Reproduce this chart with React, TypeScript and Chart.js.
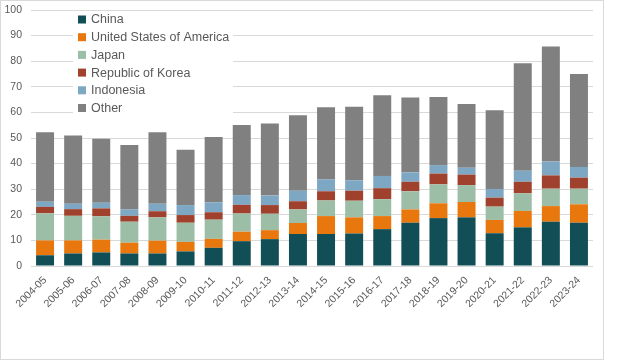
import React, { useEffect, useRef } from 'react';
import { Chart, registerables } from 'chart.js';

Chart.register(...registerables);

const categories = [
  '2004-05', '2005-06', '2006-07', '2007-08', '2008-09', '2009-10', '2010-11',
  '2011-12', '2012-13', '2013-14', '2014-15', '2015-16', '2016-17', '2017-18',
  '2018-19', '2019-20', '2020-21', '2021-22', '2022-23', '2023-24',
];

const china = [4.2, 4.9, 5.3, 4.9, 4.9, 5.7, 7.1, 9.7, 10.5, 12.5, 12.5, 12.7, 14.4, 16.9, 18.7, 19.0, 12.8, 15.1, 17.3, 16.9];
const usa = [5.8, 5.1, 5.0, 4.2, 5.0, 3.7, 3.5, 3.7, 3.5, 4.3, 7.0, 6.3, 5.1, 5.2, 5.8, 6.0, 5.2, 6.4, 6.1, 7.2];
const japan = [10.6, 9.6, 9.1, 8.2, 9.1, 7.5, 7.5, 7.1, 6.4, 5.3, 6.1, 6.5, 6.6, 7.1, 7.4, 6.6, 5.2, 6.9, 6.8, 6.1];
const korea = [2.5, 2.6, 3.1, 2.3, 2.4, 3.0, 2.9, 3.4, 3.4, 3.2, 3.6, 3.9, 4.3, 3.7, 4.2, 4.1, 3.5, 4.5, 5.2, 4.3];
const indonesia = [2.0, 2.1, 2.2, 2.5, 2.9, 3.9, 3.9, 3.8, 3.7, 4.1, 4.7, 4.1, 4.8, 3.7, 3.3, 2.7, 3.4, 4.3, 5.4, 4.2];
const other = [27.1, 26.7, 25.0, 25.2, 27.9, 21.6, 25.5, 27.4, 28.2, 29.5, 28.1, 28.7, 31.5, 29.2, 26.6, 24.9, 30.7, 42.0, 44.9, 36.3];

const seriesLabels = ['China', 'United States of America', 'Japan', 'Republic of Korea', 'Indonesia', 'Other'];
const seriesColors = ['#114E55', '#E8780E', '#9CBEA7', '#9F412C', '#7DA7C3', '#808080'];
const seriesValues = [china, usa, japan, korea, indonesia, other];

const yTicks = [0, 10, 20, 30, 40, 50, 60, 70, 80, 90, 100];

const FONT = '"Liberation Sans", Arial, sans-serif';
const TEXT = '#595959';

const insideLegend = {
  id: 'insideLegend',
  beforeDatasetsDraw(chart: any) {
    const ctx = chart.ctx;
    ctx.save();
    ctx.fillStyle = '#ffffff';
    ctx.fillRect(72, 11, 160, 101);
    ctx.font = `12.5px ${FONT}`;
    ctx.textBaseline = 'middle';
    chart.data.datasets.forEach((ds: any, i: number) => {
      const cy = 18.5 + i * 17.7;
      ctx.fillStyle = ds.backgroundColor;
      ctx.fillRect(77, cy - 4, 8, 8);
      ctx.fillStyle = TEXT;
      ctx.fillText(ds.label, 90, cy + 0.5);
    });
    ctx.restore();
  },
};

export default function App() {
  const ref = useRef<HTMLCanvasElement>(null);

  useEffect(() => {
    if (!ref.current) return;
    const chart = new Chart(ref.current, {
      type: 'bar',
      data: {
        labels: categories,
        datasets: seriesLabels.map((label, i) => ({
          label,
          data: seriesValues[i],
          backgroundColor: seriesColors[i],
          borderWidth: 0,
          categoryPercentage: 0.8,
          barPercentage: 0.8,
        })),
      },
      options: {
        responsive: false,
        animation: false,
        devicePixelRatio: 1,
        layout: { padding: { top: 9, right: 10, left: 0, bottom: 0 } },
        plugins: {
          legend: { display: false },
          tooltip: { enabled: false },
        },
        scales: {
          x: {
            stacked: true,
            grid: { display: false, drawTicks: false },
            border: { display: false },
            ticks: {
              color: TEXT,
              font: { family: FONT, size: 10.5 },
              minRotation: 45,
              maxRotation: 45,
              padding: 8,
              autoSkip: false,
            },
            afterFit: (scale: any) => {
              scale.height = 93;
              scale.paddingLeft = 0;
              scale.paddingRight = 0;
            },
          },
          y: {
            stacked: true,
            min: 0,
            max: 100,
            afterBuildTicks: (scale: any) => {
              scale.ticks = yTicks.map((v) => ({ value: v }));
            },
            grid: { color: '#D9D9D9', lineWidth: 1, drawTicks: false },
            border: { display: false },
            ticks: {
              color: TEXT,
              font: { family: FONT, size: 10.5 },
              padding: 9,
            },
            afterFit: (scale: any) => {
              scale.width = 30;
              scale.paddingTop = 0;
              scale.paddingBottom = 0;
            },
          },
        },
      },
      plugins: [insideLegend],
    });
    return () => chart.destroy();
  }, []);

  return (
    <div
      style={{
        position: 'absolute',
        left: 0,
        top: 0,
        width: 604,
        height: 360,
        border: '1px solid #D9D9D9',
        boxSizing: 'border-box',
        background: '#fff',
        overflow: 'hidden',
      }}
    >
      <canvas
        ref={ref}
        width={602}
        height={358}
        style={{ display: 'block', width: 602, height: 358 }}
      />
    </div>
  );
}
